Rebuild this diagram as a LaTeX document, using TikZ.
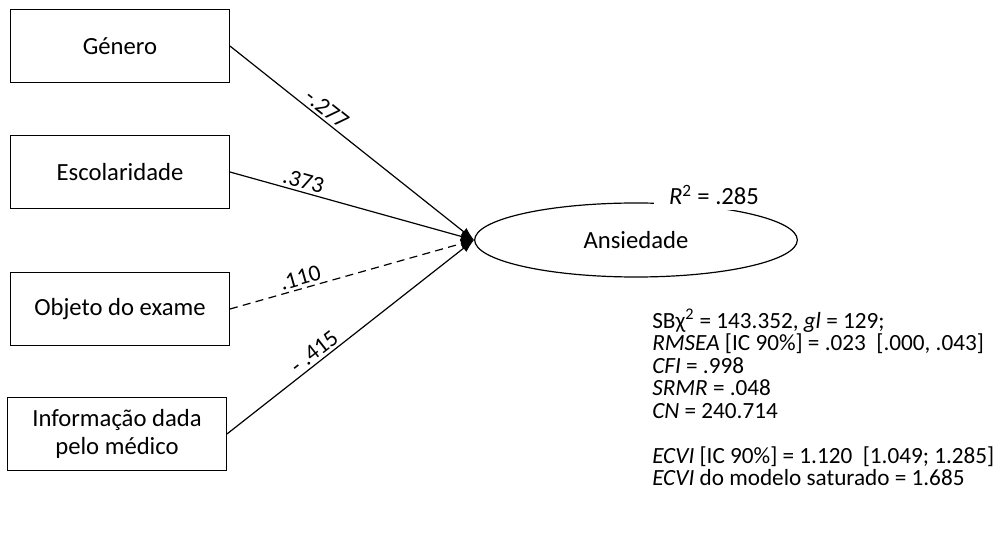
\documentclass[tikz,border=0pt]{standalone}
\usepackage{fontspec}
\setmainfont{Carlito}
\usetikzlibrary{positioning,shapes.geometric,arrows.meta}
\newcommand\tightlines{\lineskiplimit=-20pt\relax}

\begin{document}
\begin{tikzpicture}[x=0.75pt,y=-0.75pt,node distance=95pt,on grid,auto,
    font=\fontsize{18.5}{21}\selectfont,
    box/.style={draw,line width=0.9pt,minimum width=164pt,minimum height=55pt,align=center},
    latent/.style={draw,ellipse,line width=0.9pt,minimum width=242pt,minimum height=55.5pt},
    path/.style={->,>={Latex[length=10pt,width=7pt]},line width=0.9pt},
    coef/.style={sloped,inner sep=2pt,font=\fontsize{17.5}{20}\selectfont}]

   \useasboundingbox (0,0) rectangle (1004,549);

   \node[box] (genero) at (120,46) {Género};
   \node[box] (escolaridade) [below=94.5pt of genero] {Escolaridade};
   \node[box] (objeto) [below=102.75pt of escolaridade] {Objeto do exame};
   \node[box] (informacao) [below=93.75pt of objeto, xshift=-2.25pt] {Informação dada\\pelo médico};

   \node[latent] (ansiedade) at (636,240) {Ansiedade};
   \node[fill=white,inner xsep=11pt,inner ysep=3.5pt] (r2) at (714,195) {\textit{R}\textsuperscript{2} = .285};

    \path[path]
    (genero.east)
        edge node[coef,pos=0.37] {-.277} (ansiedade.west)
    (escolaridade.east)
        edge node[coef,pos=0.29] {.373} (ansiedade.west)
    (objeto.east)
        edge [dash pattern=on 6pt off 4pt] node[coef,pos=0.30] {.110} (ansiedade.west)
    (informacao.east)
        edge node[coef,pos=0.38] {- .415} (ansiedade.west);

   \node[align=left,anchor=north west,inner sep=0pt,
     font=\fontsize{17.4}{16.9}\selectfont\tightlines] (ajuste) at (652,309)
     {SBχ\textsuperscript{2} = 143.352, \textit{gl} = 129;\\
      \textit{RMSEA} [IC 90\%] = .023 \ [.000, .043]\\
      \textit{CFI} = .998\\
      \textit{SRMR} = .048\\
      \textit{CN} = 240.714\\[16.9pt]
      \textit{ECVI} [IC 90\%] = 1.120 \ [1.049; 1.285]\\
      \textit{ECVI} do modelo saturado = 1.685};
\end{tikzpicture}
\end{document}
